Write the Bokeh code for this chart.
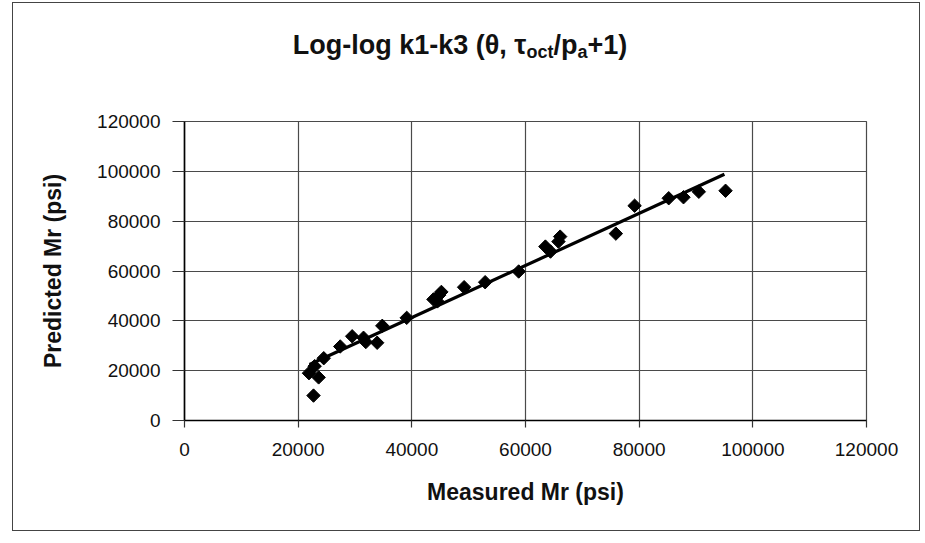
import math
from bokeh.plotting import figure
from bokeh.layouts import column
from bokeh.models import FixedTicker, BasicTickFormatter, ColumnDataSource, Div
from bokeh.embed import file_html
from bokeh.resources import INLINE

# Measured vs predicted resilient modulus (psi)
measured = [21900, 22700, 23600, 22900, 24500, 27400, 29500, 31500, 31900,
            33900, 34800, 39100, 43800, 44500, 45200, 44800, 49200, 52900,
            58800, 63500, 64400, 66100, 65800, 75900, 79200, 85200, 87800,
            90500, 95200]
predicted = [19000, 10000, 17300, 21800, 25000, 29700, 33800, 33200, 31500,
             31200, 38000, 41200, 48600, 47800, 51600, 50300, 53500, 55500,
             59800, 69800, 67800, 73800, 71800, 75000, 86200, 89200, 89600,
             91800, 92200]
trend_x = [22000, 95000]
trend_y = [22500, 98800]
ticks = [0, 20000, 40000, 60000, 80000, 100000, 120000]
title_html = ("Log-log k1-k3 (\u03b8, \u03c4<sub>oct</sub>/p<sub>a</sub>+1)")

FONT = "Liberation Sans"
# page geometry
BL, BT, BR, BB = 12, 2, 919, 531      # outer chart border
FL, FR, FT, FB = 184, 866, 121, 420   # plot frame
DIV_H = 80
inner_w = BR - BL - 1
fig_top = BT + 1 + DIV_H
fig_h = BB - 1 - fig_top

title = Div(text=f'<div style="display:block;box-sizing:border-box;width:{inner_w}px;'
                 f'padding-top:27px;padding-right:12px;text-align:center;'
                 f'font-family:\'{FONT}\';font-weight:bold;font-size:27px;color:#111;'
                 f'white-space:nowrap;line-height:1.15">{title_html}</div>'
                 '<style>sub{font-size:18px;vertical-align:-4px;line-height:0}</style>',
            width=inner_w, height=DIV_H, margin=0,
            styles={"width": f"{inner_w}px", "display": "block"})

p = figure(width=inner_w, height=fig_h, x_range=(0, 120000), y_range=(0, 120000),
           output_backend="svg", toolbar_location=None, title=None,
           min_border_left=FL - BL - 1, min_border_right=BR - FR,
           min_border_top=FT - fig_top, min_border_bottom=BB - 1 - FB, margin=0)
p.background_fill_color = "white"
p.border_fill_color = "white"
p.outline_line_color = "#4a4a4a"
p.outline_line_width = 1.2

for ax in (p.xaxis, p.yaxis):
    ax.ticker = FixedTicker(ticks=ticks)
    ax.formatter = BasicTickFormatter(use_scientific=False)
    ax.major_label_text_font = FONT
    ax.major_label_text_font_size = "19px"
    ax.major_label_text_color = "#111111"
    ax.axis_line_color = "black"
    ax.axis_line_width = 1.6
    ax.major_tick_line_color = "#333333"
    ax.major_tick_line_width = 1.2
    ax.major_tick_in = 0
    ax.minor_tick_line_color = None
    ax.axis_label_text_font = FONT
    ax.axis_label_text_font_style = "bold"
    ax.axis_label_text_font_size = "23px"
    ax.axis_label_text_color = "#111111"

p.xaxis.axis_label = "Measured Mr (psi)"
p.yaxis.axis_label = "Predicted Mr (psi)"
p.xaxis.major_tick_out = 7
p.xaxis.major_label_standoff = 15
p.xaxis.axis_label_standoff = 20
p.yaxis.major_tick_out = 12
p.yaxis.major_label_standoff = 12
p.yaxis.axis_label_standoff = 28

for g in (p.xgrid, p.ygrid):
    g.ticker = FixedTicker(ticks=ticks)
    g.grid_line_color = "#4a4a4a"
    g.grid_line_width = 1.2

src = ColumnDataSource(dict(x=measured, y=predicted))
p.line(trend_x, trend_y, line_color="black", line_width=3.2)
p.scatter("x", "y", source=src, marker="square", angle=math.pi / 4,
          size=9.5, fill_color="black", line_color="black")

layout = column(title, p, spacing=0,
                margin=(BT, 925 - BR - 1, 0, BL),
                styles={"border": "1px solid #444", "background": "white"})

open("out.html", "w").write(file_html(layout, INLINE))
